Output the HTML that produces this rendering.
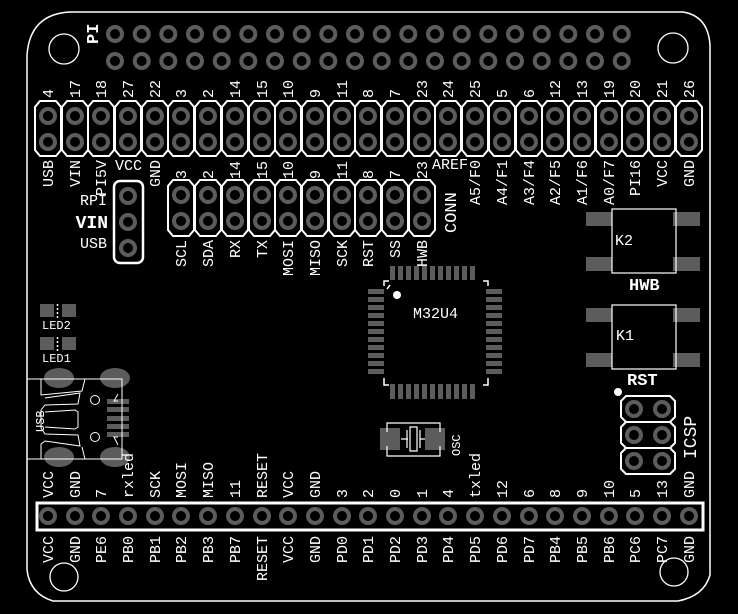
<!DOCTYPE html>
<html><head><meta charset="utf-8"><style>
html,body{margin:0;padding:0;background:#000;}
svg{display:block}
text{font-family:"Liberation Mono",monospace;font-size:15px;fill:#fff}
</style></head><body>
<svg width="738" height="614" viewBox="0 0 738 614" xmlns="http://www.w3.org/2000/svg">
<defs>
<circle id="h" r="7" fill="none" stroke="#5c5c5c" stroke-width="4"/>
<path id="oc" d="M-8,101 L8,101 L13,107 L13,150 L8,156 L-8,156 L-13,150 L-13,107 Z" fill="none" stroke="#fff" stroke-width="2"/>
<path id="oc2" d="M-8,180 L8,180 L13,186 L13,230 L8,236 L-8,236 L-13,230 L-13,186 Z" fill="none" stroke="#fff" stroke-width="2"/>
<g id="col"><use href="#oc"/><use href="#h" y="116"/><use href="#h" y="142"/></g>
<g id="col2"><use href="#oc2"/><use href="#h" y="195"/><use href="#h" y="221"/></g>
</defs>
<rect width="738" height="614" fill="#000"/>
<!-- board outline -->
<path d="M27,55 Q30,14 70,12 L683,12 Q708,16 710,45 L710,575 Q704,596 678,601 L53,601 Q30,594 27,570 Z" fill="none" stroke="#fff" stroke-width="1.5"/>
<circle cx="64" cy="49" r="15" fill="none" stroke="#fff" stroke-width="1.3"/>
<circle cx="673" cy="48" r="15" fill="none" stroke="#fff" stroke-width="1.3"/>
<circle cx="64" cy="577" r="14" fill="none" stroke="#fff" stroke-width="1.3"/>
<circle cx="674" cy="572" r="14" fill="none" stroke="#fff" stroke-width="1.3"/>
<text transform="translate(98,44) rotate(-90)" style="font-weight:bold;font-size:17px">PI</text>
<!-- PI header -->
<g>
<use href="#h" x="115" y="34"/><use href="#h" x="141.7" y="34"/><use href="#h" x="168.3" y="34"/><use href="#h" x="195" y="34"/><use href="#h" x="221.7" y="34"/><use href="#h" x="248.3" y="34"/><use href="#h" x="275" y="34"/><use href="#h" x="301.7" y="34"/><use href="#h" x="328.3" y="34"/><use href="#h" x="355" y="34"/><use href="#h" x="381.7" y="34"/><use href="#h" x="408.3" y="34"/><use href="#h" x="435" y="34"/><use href="#h" x="461.7" y="34"/><use href="#h" x="488.3" y="34"/><use href="#h" x="515" y="34"/><use href="#h" x="541.7" y="34"/><use href="#h" x="568.3" y="34"/><use href="#h" x="595" y="34"/><use href="#h" x="621.7" y="34"/>
<use href="#h" x="115" y="61"/><use href="#h" x="141.7" y="61"/><use href="#h" x="168.3" y="61"/><use href="#h" x="195" y="61"/><use href="#h" x="221.7" y="61"/><use href="#h" x="248.3" y="61"/><use href="#h" x="275" y="61"/><use href="#h" x="301.7" y="61"/><use href="#h" x="328.3" y="61"/><use href="#h" x="355" y="61"/><use href="#h" x="381.7" y="61"/><use href="#h" x="408.3" y="61"/><use href="#h" x="435" y="61"/><use href="#h" x="461.7" y="61"/><use href="#h" x="488.3" y="61"/><use href="#h" x="515" y="61"/><use href="#h" x="541.7" y="61"/><use href="#h" x="568.3" y="61"/><use href="#h" x="595" y="61"/><use href="#h" x="621.7" y="61"/>
</g>
<!-- top header -->
<use href="#col" x="48"/><use href="#col" x="75"/><use href="#col" x="101"/><use href="#col" x="128"/><use href="#col" x="155"/><use href="#col" x="181"/><use href="#col" x="208"/><use href="#col" x="235"/><use href="#col" x="262"/><use href="#col" x="288"/><use href="#col" x="315"/><use href="#col" x="342"/><use href="#col" x="368"/><use href="#col" x="395"/><use href="#col" x="422"/><use href="#col" x="448"/><use href="#col" x="475"/><use href="#col" x="502"/><use href="#col" x="529"/><use href="#col" x="555"/><use href="#col" x="582"/><use href="#col" x="609"/><use href="#col" x="635"/><use href="#col" x="662"/><use href="#col" x="689"/>
<g>
<text transform="translate(53,98) rotate(-90)">4</text>
<text transform="translate(80,98) rotate(-90)">17</text>
<text transform="translate(106,98) rotate(-90)">18</text>
<text transform="translate(133,98) rotate(-90)">27</text>
<text transform="translate(160,98) rotate(-90)">22</text>
<text transform="translate(186,98) rotate(-90)">3</text>
<text transform="translate(213,98) rotate(-90)">2</text>
<text transform="translate(240,98) rotate(-90)">14</text>
<text transform="translate(267,98) rotate(-90)">15</text>
<text transform="translate(293,98) rotate(-90)">10</text>
<text transform="translate(320,98) rotate(-90)">9</text>
<text transform="translate(347,98) rotate(-90)">11</text>
<text transform="translate(373,98) rotate(-90)">8</text>
<text transform="translate(400,98) rotate(-90)">7</text>
<text transform="translate(427,98) rotate(-90)">23</text>
<text transform="translate(453,98) rotate(-90)">24</text>
<text transform="translate(480,98) rotate(-90)">25</text>
<text transform="translate(507,98) rotate(-90)">5</text>
<text transform="translate(534,98) rotate(-90)">6</text>
<text transform="translate(560,98) rotate(-90)">12</text>
<text transform="translate(587,98) rotate(-90)">13</text>
<text transform="translate(614,98) rotate(-90)">19</text>
<text transform="translate(640,98) rotate(-90)">20</text>
<text transform="translate(667,98) rotate(-90)">21</text>
<text transform="translate(694,98) rotate(-90)">26</text>
</g>
<g text-anchor="end">
<text transform="translate(53,160) rotate(-90)">USB</text>
<text transform="translate(80,160) rotate(-90)">VIN</text>
<text transform="translate(106,160) rotate(-90)">PI5V</text>
<text transform="translate(160,160) rotate(-90)">GND</text>
<text transform="translate(480,160) rotate(-90)">A5/F0</text>
<text transform="translate(507,160) rotate(-90)">A4/F1</text>
<text transform="translate(534,160) rotate(-90)">A3/F4</text>
<text transform="translate(560,160) rotate(-90)">A2/F5</text>
<text transform="translate(587,160) rotate(-90)">A1/F6</text>
<text transform="translate(614,160) rotate(-90)">A0/F7</text>
<text transform="translate(640,160) rotate(-90)">PI16</text>
<text transform="translate(667,160) rotate(-90)">VCC</text>
<text transform="translate(694,160) rotate(-90)">GND</text>
</g>
<text x="115" y="170">VCC</text>
<text x="432" y="169">AREF</text>
<!-- second header -->
<use href="#col2" x="181"/><use href="#col2" x="208"/><use href="#col2" x="235"/><use href="#col2" x="262"/><use href="#col2" x="288"/><use href="#col2" x="315"/><use href="#col2" x="342"/><use href="#col2" x="368"/><use href="#col2" x="395"/><use href="#col2" x="422"/>
<g>
<text transform="translate(186,179) rotate(-90)">3</text>
<text transform="translate(213,179) rotate(-90)">2</text>
<text transform="translate(240,179) rotate(-90)">14</text>
<text transform="translate(267,179) rotate(-90)">15</text>
<text transform="translate(293,179) rotate(-90)">10</text>
<text transform="translate(320,179) rotate(-90)">9</text>
<text transform="translate(347,179) rotate(-90)">11</text>
<text transform="translate(373,179) rotate(-90)">8</text>
<text transform="translate(400,179) rotate(-90)">7</text>
<text transform="translate(427,179) rotate(-90)">23</text>
</g>
<g text-anchor="end">
<text transform="translate(186,240) rotate(-90)">SCL</text>
<text transform="translate(213,240) rotate(-90)">SDA</text>
<text transform="translate(240,240) rotate(-90)">RX</text>
<text transform="translate(267,240) rotate(-90)">TX</text>
<text transform="translate(293,240) rotate(-90)">MOSI</text>
<text transform="translate(320,240) rotate(-90)">MISO</text>
<text transform="translate(347,240) rotate(-90)">SCK</text>
<text transform="translate(373,240) rotate(-90)">RST</text>
<text transform="translate(400,240) rotate(-90)">SS</text>
<text transform="translate(427,240) rotate(-90)">HWB</text>
</g>
<text transform="translate(456,233) rotate(-90)" style="font-size:17px">CONN</text>
<!-- VIN jumper -->
<rect x="114" y="181" width="29" height="82" rx="6" fill="none" stroke="#fff" stroke-width="2.5"/>
<use href="#h" x="128" y="196"/><use href="#h" x="128" y="222"/><use href="#h" x="128" y="248"/>
<g text-anchor="end">
<text x="107" y="205">RPI</text>
<text x="108" y="228" style="font-weight:bold;font-size:18px">VIN</text>
<text x="107" y="248">USB</text>
</g>
<!-- LEDs -->
<rect x="40" y="304" width="14" height="13" fill="#5c5c5c"/><rect x="62" y="304" width="14" height="13" fill="#5c5c5c"/>
<line x1="57.5" y1="304" x2="57.5" y2="318" stroke="#fff" stroke-width="1.5" stroke-dasharray="2,2"/>
<text x="42" y="329" style="font-size:12px">LED2</text>
<rect x="40" y="337" width="14" height="13" fill="#5c5c5c"/><rect x="62" y="337" width="14" height="13" fill="#5c5c5c"/>
<line x1="57.5" y1="337" x2="57.5" y2="351" stroke="#fff" stroke-width="1.5" stroke-dasharray="2,2"/>
<text x="42" y="362" style="font-size:12px">LED1</text>
<!-- USB -->
<g fill="#5c5c5c">
<ellipse cx="59" cy="378" rx="15" ry="10"/><ellipse cx="115" cy="378" rx="15" ry="10"/>
<ellipse cx="59" cy="457" rx="15" ry="10"/><ellipse cx="115" cy="457" rx="15" ry="10"/>
<rect x="107" y="399" width="22" height="5"/><rect x="107" y="407" width="22" height="5"/><rect x="107" y="416" width="22" height="5"/><rect x="107" y="424" width="22" height="5"/><rect x="107" y="432" width="22" height="5"/>
</g>
<g fill="none" stroke="#fff" stroke-width="1">
<rect x="27" y="379" width="95" height="80"/>
<path d="M41,379 L41,395 L82,391 L85,379 M45,398 L80,393 L78,404 L45,405 L41,410 L41,428 L45,434 L78,435 L80,446 L45,441 L41,444 L41,459 M85,459 L82,447 M118,401 L114,401 L118,394 M118,437 L114,437 L118,445"/>
<path d="M45,412 L75,410 L78,412 L78,427 L75,429 L45,427"/>
<circle cx="95" cy="400" r="4.5"/><circle cx="95" cy="437" r="4.5"/>
</g>
<text transform="translate(44,432) rotate(-90)" style="font-size:12px">USB</text>
<!-- chip -->
<g fill="#5c5c5c">
<rect x="390" y="266" width="5" height="14"/><rect x="398" y="266" width="5" height="14"/><rect x="406" y="266" width="5" height="14"/><rect x="414" y="266" width="5" height="14"/><rect x="422" y="266" width="5" height="14"/><rect x="430" y="266" width="5" height="14"/><rect x="438" y="266" width="5" height="14"/><rect x="446" y="266" width="5" height="14"/><rect x="454" y="266" width="5" height="14"/><rect x="462" y="266" width="5" height="14"/><rect x="470" y="266" width="5" height="14"/>
<rect x="390" y="384" width="5" height="15"/><rect x="398" y="384" width="5" height="15"/><rect x="406" y="384" width="5" height="15"/><rect x="414" y="384" width="5" height="15"/><rect x="422" y="384" width="5" height="15"/><rect x="430" y="384" width="5" height="15"/><rect x="438" y="384" width="5" height="15"/><rect x="446" y="384" width="5" height="15"/><rect x="454" y="384" width="5" height="15"/><rect x="462" y="384" width="5" height="15"/><rect x="470" y="384" width="5" height="15"/>
<rect x="368" y="289" width="16" height="5"/><rect x="368" y="297" width="16" height="5"/><rect x="368" y="305" width="16" height="5"/><rect x="368" y="313" width="16" height="5"/><rect x="368" y="321" width="16" height="5"/><rect x="368" y="329" width="16" height="5"/><rect x="368" y="337" width="16" height="5"/><rect x="368" y="345" width="16" height="5"/><rect x="368" y="353" width="16" height="5"/><rect x="368" y="361" width="16" height="5"/><rect x="368" y="369" width="16" height="5"/>
<rect x="486" y="289" width="16" height="5"/><rect x="486" y="297" width="16" height="5"/><rect x="486" y="305" width="16" height="5"/><rect x="486" y="313" width="16" height="5"/><rect x="486" y="321" width="16" height="5"/><rect x="486" y="329" width="16" height="5"/><rect x="486" y="337" width="16" height="5"/><rect x="486" y="345" width="16" height="5"/><rect x="486" y="353" width="16" height="5"/><rect x="486" y="361" width="16" height="5"/><rect x="486" y="369" width="16" height="5"/>
</g>
<path d="M384,286 L384,281 L389,281 M483,281 L488,281 L488,286 M384,378 L384,385 L389,385 M483,385 L488,385 L488,378 M387,289 L390,285" fill="none" stroke="#fff" stroke-width="1.5"/>
<circle cx="397" cy="295" r="4" fill="#fff"/>
<text x="413" y="318">M32U4</text>
<!-- OSC -->
<rect x="380" y="428" width="20" height="22" fill="#5c5c5c"/><rect x="425" y="428" width="20" height="22" fill="#5c5c5c"/>
<path d="M387,432 L387,423 L440,423 L440,432 M387,446 L387,456 L440,456 L440,446 M401,439 L408,439 M407,430 L407,448 M410,427 L417,427 L417,451 L410,451 Z M420,430 L420,448 M420,439 L425,439" fill="none" stroke="#fff" stroke-width="1.2"/>
<text transform="translate(460,456) rotate(-90)" style="font-size:12px">OSC</text>
<!-- K2 -->
<rect x="586" y="212" width="26" height="14" fill="#5c5c5c"/><rect x="673" y="212" width="27" height="14" fill="#5c5c5c"/>
<rect x="586" y="257" width="26" height="14" fill="#5c5c5c"/><rect x="673" y="257" width="27" height="14" fill="#5c5c5c"/>
<rect x="612" y="209" width="64" height="64" fill="none" stroke="#fff" stroke-width="1.2"/>
<text x="615" y="245">K2</text>
<text x="629" y="290" style="font-weight:bold;font-size:17px">HWB</text>
<!-- K1 -->
<rect x="586" y="308" width="26" height="14" fill="#5c5c5c"/><rect x="673" y="308" width="27" height="14" fill="#5c5c5c"/>
<rect x="586" y="353" width="26" height="14" fill="#5c5c5c"/><rect x="673" y="353" width="27" height="14" fill="#5c5c5c"/>
<rect x="612" y="305" width="64" height="64" fill="none" stroke="#fff" stroke-width="1.2"/>
<text x="616" y="340">K1</text>
<text x="627" y="385" style="font-weight:bold;font-size:17px">RST</text>
<circle cx="618" cy="392" r="4" fill="#fff"/>
<!-- ICSP -->
<path d="M626,396 L670,396 L675,401 L675,417 L670,422 L675,427 L675,443 L670,448 L675,453 L675,469 L670,474 L626,474 L621,469 L621,453 L626,448 L621,443 L621,427 L626,422 L621,417 L621,401 Z M626,422 L670,422 M626,448 L670,448" fill="none" stroke="#fff" stroke-width="2"/>
<use href="#h" x="634" y="409"/><use href="#h" x="662" y="409"/><use href="#h" x="634" y="435"/><use href="#h" x="662" y="435"/><use href="#h" x="634" y="461"/><use href="#h" x="662" y="461"/>
<text transform="translate(696,459) rotate(-90)" style="font-size:18px">ICSP</text>
<!-- bottom header -->
<rect x="37" y="503" width="666" height="27" fill="none" stroke="#fff" stroke-width="3"/>
<use href="#h" x="48" y="516"/><use href="#h" x="75" y="516"/><use href="#h" x="101" y="516"/><use href="#h" x="128" y="516"/><use href="#h" x="155" y="516"/><use href="#h" x="181" y="516"/><use href="#h" x="208" y="516"/><use href="#h" x="235" y="516"/><use href="#h" x="262" y="516"/><use href="#h" x="288" y="516"/><use href="#h" x="315" y="516"/><use href="#h" x="342" y="516"/><use href="#h" x="368" y="516"/><use href="#h" x="395" y="516"/><use href="#h" x="422" y="516"/><use href="#h" x="448" y="516"/><use href="#h" x="475" y="516"/><use href="#h" x="502" y="516"/><use href="#h" x="529" y="516"/><use href="#h" x="555" y="516"/><use href="#h" x="582" y="516"/><use href="#h" x="609" y="516"/><use href="#h" x="635" y="516"/><use href="#h" x="662" y="516"/><use href="#h" x="689" y="516"/>
<g>
<text transform="translate(53,498) rotate(-90)">VCC</text>
<text transform="translate(80,498) rotate(-90)">GND</text>
<text transform="translate(106,498) rotate(-90)">7</text>
<text transform="translate(133,498) rotate(-90)">rxled</text>
<text transform="translate(160,498) rotate(-90)">SCK</text>
<text transform="translate(186,498) rotate(-90)">MOSI</text>
<text transform="translate(213,498) rotate(-90)">MISO</text>
<text transform="translate(240,498) rotate(-90)">11</text>
<text transform="translate(267,498) rotate(-90)">RESET</text>
<text transform="translate(293,498) rotate(-90)">VCC</text>
<text transform="translate(320,498) rotate(-90)">GND</text>
<text transform="translate(347,498) rotate(-90)">3</text>
<text transform="translate(373,498) rotate(-90)">2</text>
<text transform="translate(400,498) rotate(-90)">0</text>
<text transform="translate(427,498) rotate(-90)">1</text>
<text transform="translate(453,498) rotate(-90)">4</text>
<text transform="translate(480,498) rotate(-90)">txled</text>
<text transform="translate(507,498) rotate(-90)">12</text>
<text transform="translate(534,498) rotate(-90)">6</text>
<text transform="translate(560,498) rotate(-90)">8</text>
<text transform="translate(587,498) rotate(-90)">9</text>
<text transform="translate(614,498) rotate(-90)">10</text>
<text transform="translate(640,498) rotate(-90)">5</text>
<text transform="translate(667,498) rotate(-90)">13</text>
<text transform="translate(694,498) rotate(-90)">GND</text>
</g>
<g text-anchor="end">
<text transform="translate(53,536) rotate(-90)">VCC</text>
<text transform="translate(80,536) rotate(-90)">GND</text>
<text transform="translate(106,536) rotate(-90)">PE6</text>
<text transform="translate(133,536) rotate(-90)">PB0</text>
<text transform="translate(160,536) rotate(-90)">PB1</text>
<text transform="translate(186,536) rotate(-90)">PB2</text>
<text transform="translate(213,536) rotate(-90)">PB3</text>
<text transform="translate(240,536) rotate(-90)">PB7</text>
<text transform="translate(267,536) rotate(-90)">RESET</text>
<text transform="translate(293,536) rotate(-90)">VCC</text>
<text transform="translate(320,536) rotate(-90)">GND</text>
<text transform="translate(347,536) rotate(-90)">PD0</text>
<text transform="translate(373,536) rotate(-90)">PD1</text>
<text transform="translate(400,536) rotate(-90)">PD2</text>
<text transform="translate(427,536) rotate(-90)">PD3</text>
<text transform="translate(453,536) rotate(-90)">PD4</text>
<text transform="translate(480,536) rotate(-90)">PD5</text>
<text transform="translate(507,536) rotate(-90)">PD6</text>
<text transform="translate(534,536) rotate(-90)">PD7</text>
<text transform="translate(560,536) rotate(-90)">PB4</text>
<text transform="translate(587,536) rotate(-90)">PB5</text>
<text transform="translate(614,536) rotate(-90)">PB6</text>
<text transform="translate(640,536) rotate(-90)">PC6</text>
<text transform="translate(667,536) rotate(-90)">PC7</text>
<text transform="translate(694,536) rotate(-90)">GND</text>
</g>
</svg>
</body></html>
